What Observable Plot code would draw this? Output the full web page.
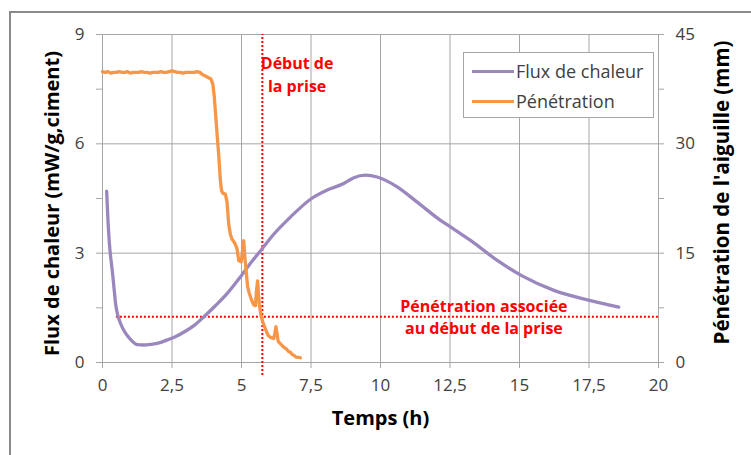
<!DOCTYPE html>
<html>
<head>
<meta charset="utf-8">
<script src="https://cdn.jsdelivr.net/npm/d3@7"></script>
<script src="https://cdn.jsdelivr.net/npm/@observablehq/plot@0.6"></script>
<style>
  body { margin:0; width:751px; height:455px; overflow:hidden; background:#fff; position:relative; font-family: "Open Sans", sans-serif; }
  #frame { position:absolute; left:9px; top:11px; width:800px; height:500px; border:2px solid #8a8a8a; pointer-events:none; }
  #chart { position:absolute; left:0; top:0; }
  #legend { position:absolute; left:463px; top:52px; width:189px; height:64px; border:1px solid #a6a6a6; background:#fff; font-size:18px; color:#404040; }
  #legend .row { position:absolute; left:8px; display:flex; align-items:center; height:20px; white-space:nowrap; }
  #legend .sw { width:42px; height:3px; margin-right:2px; }
</style>
</head>
<body>
<div id="frame"></div>
<div id="chart"></div>
<div id="legend">
  <div class="row" style="top:8px"><span class="sw" style="background:#9a87bd"></span><span>Flux de chaleur</span></div>
  <div class="row" style="top:38px"><span class="sw" style="background:#f79646"></span><span>Pénétration</span></div>
</div>
<script>
// Heat flux (mW/g,ciment) vs time (h)
const fluxTime = [0.15,0.17,0.2,0.25,0.3,0.35,0.42,0.47,0.55,0.65,0.77,0.89,1.05,1.25,1.5,1.73,2.0,2.33,2.6,2.92,3.3,3.64,4.05,4.48,5.0,5.35,5.72,6.16,6.76,7.52,8.08,8.68,9.04,9.46,9.88,10.6,11.32,12.16,12.52,13.24,14.2,15.06,16.24,17.55,18.57];
const fluxValue = [4.70,4.35,3.85,3.25,2.85,2.53,2.0,1.62,1.30,1.07,0.88,0.74,0.60,0.49,0.48,0.50,0.53,0.62,0.70,0.83,1.02,1.25,1.55,1.89,2.39,2.75,3.10,3.52,3.99,4.50,4.73,4.91,5.07,5.14,5.09,4.82,4.40,3.90,3.72,3.35,2.80,2.39,1.98,1.70,1.52];

// Needle penetration (mm) vs time (h)
const penTime = [0.0,0.1,0.2,0.3,0.4,0.5,0.6,0.7,0.8,0.9,1.0,1.1,1.2,1.3,1.4,1.5,1.6,1.7,1.8,1.9,2.0,2.1,2.2,2.3,2.4,2.5,2.6,2.7,2.8,2.9,3.0,3.1,3.2,3.3,3.4,3.5,3.6,3.7,3.8,3.9,3.97,4.02,4.08,4.12,4.18,4.24,4.28,4.33,4.42,4.48,4.54,4.6,4.66,4.72,4.78,4.84,4.9,4.99,5.04,5.08,5.12,5.17,5.22,5.28,5.36,5.44,5.5,5.54,5.58,5.61,5.64,5.7,5.76,5.86,5.96,6.06,6.16,6.2,6.24,6.28,6.32,6.42,6.52,6.6,6.7,6.76,6.82,6.88,6.96,7.06,7.12];
const penValue = [39.9,39.8,39.9,39.7,39.8,39.8,39.9,39.8,39.8,39.9,39.7,39.8,39.8,39.8,39.9,39.8,39.8,39.7,39.8,39.8,39.8,39.9,39.8,39.8,39.9,40.0,39.9,39.8,39.8,39.7,39.8,39.8,39.8,39.8,39.9,39.8,39.5,39.3,39.1,38.9,38.2,36.5,33.5,31.4,28.5,25.0,23.6,23.2,23.1,22.0,19.0,17.6,16.9,16.6,16.2,15.6,14.0,13.8,15.5,16.7,14.5,12.5,10.4,9.5,8.6,7.9,7.8,9.9,11.2,9.5,8.0,6.5,5.6,4.6,3.7,3.4,3.3,4.0,4.9,3.9,2.9,2.5,2.1,1.9,1.5,1.4,1.1,1.0,0.75,0.7,0.65];

// Axis ticks
const xTicks = [0,2.5,5,7.5,10,12.5,15,17.5,20];
const leftTicks = [0,3,6,9];
const leftMinor = [1.5,4.5,7.5];
const rightTicks = [0,15,30,45];
const rightMinor = [7.5,22.5,37.5];

// Setting markers
const settingTime = 5.75;      // h
const settingPen = 6.28;       // mm
const annotations = [
  {x: 7.0, y: 7.94, label: "Début de\nla prise"},
  {x: 13.72, y: 1.28, label: "Pénétration associée\nau début de la prise"}
];

const leftMax = 9, rightMax = 45;
const k = leftMax / rightMax; // mm -> left scale

const flux = fluxTime.map((t, i) => ({t, v: fluxValue[i]}));
const pen = penTime.map((t, i) => ({t, v: penValue[i] * k}));

const purple = "#9a87bd", orange = "#f79646", red = "#ff0000", grid = "#a6a6a6", tickText = "#404040";
const fmt = d => String(d).replace(".", ",");

const chart = Plot.plot({
  width: 751, height: 455,
  marginLeft: 102, marginRight: 93, marginTop: 34, marginBottom: 93,
  x: {domain: [0, 20]},
  y: {domain: [0, leftMax]},
  style: {fontFamily: "'Open Sans', sans-serif", background: "transparent", overflow: "visible"},
  marks: [
    Plot.gridX(xTicks, {stroke: grid, strokeOpacity: 1}),
    Plot.gridY(leftTicks, {stroke: grid, strokeOpacity: 1}),
    Plot.axisX(xTicks, {tickSize: 6, tickPadding: 10, tickFormat: fmt, fontSize: 17, stroke: grid, fill: tickText, label: null}),
    Plot.axisY(leftTicks, {anchor: "left", tickSize: 6, tickPadding: 12, fontSize: 17, stroke: grid, fill: tickText, label: null}),
    Plot.axisY(leftMinor, {anchor: "left", tickSize: 6, tickFormat: () => "", stroke: grid, label: null}),
    Plot.axisY(rightTicks.map(d => d * k), {anchor: "right", tickSize: 5, tickPadding: 12, fontSize: 17, tickFormat: d => Math.round(d / k), stroke: grid, fill: tickText, label: null}),
    Plot.axisY(rightMinor.map(d => d * k), {anchor: "right", tickSize: 5, tickFormat: () => "", stroke: grid, label: null}),
    Plot.ruleX([settingTime], {y1: -0.36, y2: leftMax, stroke: red, strokeWidth: 2, strokeDasharray: "2,2"}),
    Plot.ruleY([settingPen * k], {x1: 0.5, x2: 20, stroke: red, strokeWidth: 2, strokeDasharray: "2,2"}),
    Plot.line(flux, {x: "t", y: "v", stroke: purple, strokeWidth: 3.3, curve: "monotone-x"}),
    Plot.line(pen, {x: "t", y: "v", stroke: orange, strokeWidth: 3.3, strokeLinejoin: "round"}),
    Plot.text(annotations, {x: "x", y: "y", text: "label", fill: red, fontWeight: "bold", fontSize: 16, lineHeight: 1.42}),
    Plot.text(["Temps (h)"], {frameAnchor: "bottom", textAnchor: "middle", dy: 62, fontSize: 20, fontWeight: "bold", fill: "#000"}),
    Plot.text(["Flux de chaleur (mW/g,ciment)"], {frameAnchor: "left", textAnchor: "middle", rotate: -90, dx: -50, dy: 5, fontSize: 20, fontWeight: "bold", fill: "#000"}),
    Plot.text(["Pénétration de l'aiguille (mm)"], {frameAnchor: "right", textAnchor: "middle", rotate: -90, dx: 64, dy: -6, fontSize: 20.5, fontWeight: "bold", fill: "#000"})
  ]
});
document.getElementById("chart").appendChild(chart);
</script>
</body>
</html>
